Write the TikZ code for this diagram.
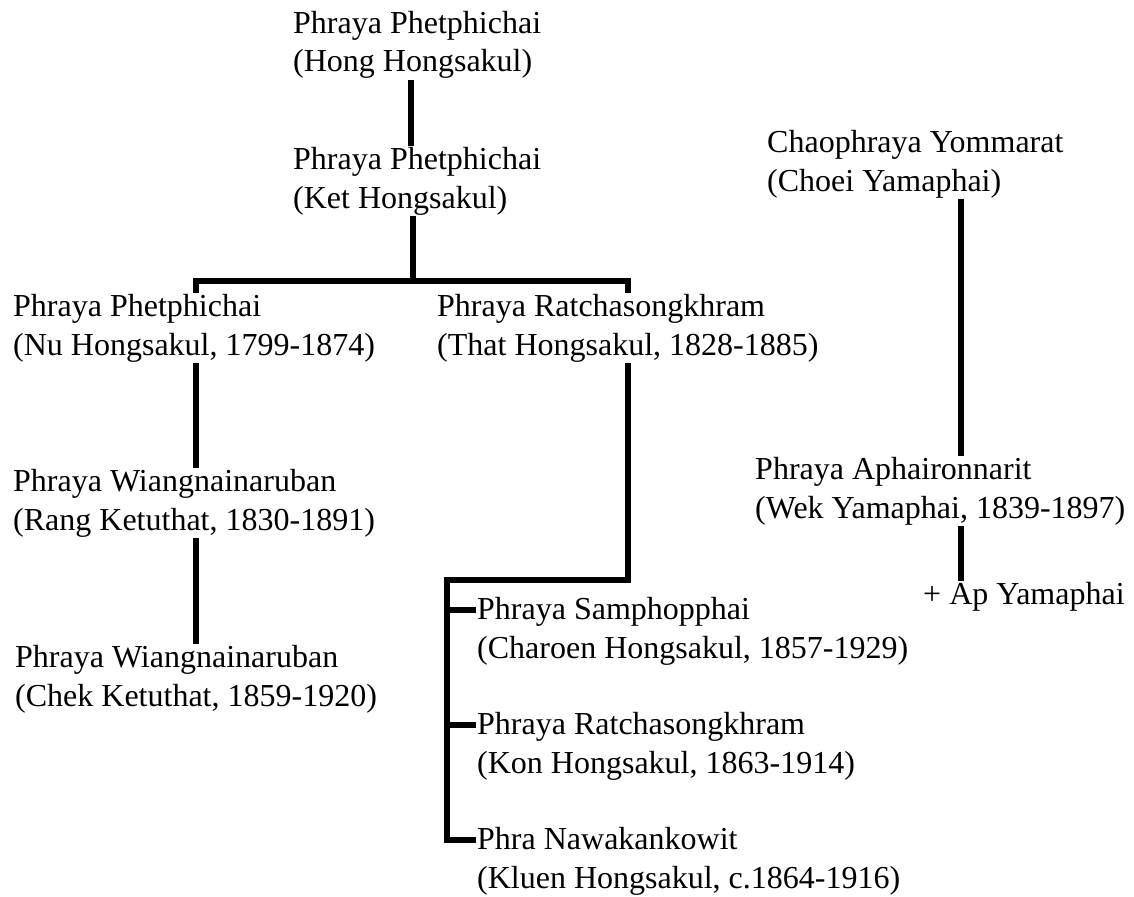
\documentclass[tikz,border=0pt]{standalone}
\usepackage{fontspec}
\setmainfont{Liberation Serif}
\begin{document}
\begin{tikzpicture}[
    x=1pt, y=-1pt,
    every node/.style={font=\fontsize{32}{38.5}\selectfont, align=left},
    person/.style={anchor=base west, inner sep=1pt},
    link/.style={line width=6pt, black}
]
\useasboundingbox (0,0) rectangle (1134,896);
% Hongsakul line
\node[person] (hong)    at (292, 72)  {Phraya Phetphichai\\(Hong Hongsakul)};
\node[person] (ket)     at (292, 208) {Phraya Phetphichai\\(Ket Hongsakul)};
\node[person] (nu)      at (12, 355)  {Phraya Phetphichai\\(Nu Hongsakul, 1799-1874)};
\node[person] (that)    at (436, 355) {Phraya Ratchasongkhram\\(That Hongsakul, 1828-1885)};
\node[person] (rang)    at (12, 530)  {Phraya Wiangnainaruban\\(Rang Ketuthat, 1830-1891)};
\node[person] (chek)    at (14, 706)  {Phraya Wiangnainaruban\\(Chek Ketuthat, 1859-1920)};
\node[person] (charoen) at (476, 658) {Phraya Samphopphai\\(Charoen Hongsakul, 1857-1929)};
\node[person] (kon)     at (476, 773) {Phraya Ratchasongkhram\\(Kon Hongsakul, 1863-1914)};
\node[person] (kluen)   at (476, 888) {Phra Nawakankowit\\(Kluen Hongsakul, c.1864-1916)};
% Yamaphai line
\node[person] (choei)   at (766, 191) {Chaophraya Yommarat\\(Choei Yamaphai)};
\node[person] (wek)     at (754, 518) {Phraya Aphaironnarit\\(Wek Yamaphai, 1839-1897)};
\node[person] (ap)      at (922, 604) {+ Ap Yamaphai};
\coordinate (top)  at (411, 0);
\coordinate (left) at (196, 0);
\coordinate (bar)  at (413, 281);
\coordinate (fork) at (447, 580);
\coordinate (yam)  at (961, 0);
\draw[link] (hong.south -| top) -- (ket.north -| top);
\draw[link] (ket.south -| bar) -- (bar);
\draw[link] (nu.north -| left) |- (bar) -| (that.north);
\draw[link] (nu.south -| left) -- (rang.north -| left);
\draw[link] (rang.south -| left) -- (chek.north -| left);
\draw[link] (that.south) |- (fork) |- ([yshift=48pt]kluen.base west);
\foreach \n in {charoen, kon}
    \draw[link] ([yshift=48pt]\n.base west) -- ([yshift=48pt]\n.base west -| fork);
\draw[link] (choei.south -| yam) -- (wek.north -| yam);
\draw[link] (wek.south -| yam) -- (ap.north -| yam);
\end{tikzpicture}
\end{document}
